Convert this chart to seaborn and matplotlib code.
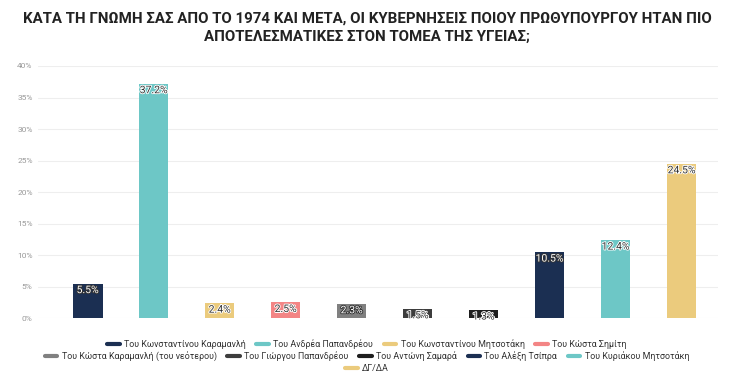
import matplotlib
matplotlib.use("Agg")
import matplotlib.pyplot as plt
import matplotlib.patheffects as pe
from matplotlib.lines import Line2D
import seaborn as sns
import pandas as pd

categories = [
    "Του Κωνσταντίνου Καραμανλή", "Του Ανδρέα Παπανδρέου",
    "Του Κωνσταντίνου Μητσοτάκη", "Του Κώστα Σημίτη",
    "Του Κώστα Καραμανλή (του νεότερου)", "Του Γιώργου Παπανδρέου",
    "Του Αντώνη Σαμαρά", "Του Αλέξη Τσίπρα",
    "Του Κυριάκου Μητσοτάκη", "ΔΓ/ΔΑ",
]
values = [5.5, 37.2, 2.4, 2.5, 2.3, 1.5, 1.3, 10.5, 12.4, 24.5]
colors = ["#1b2f52", "#6dc7c6", "#ebcb7d", "#f38585", "#808080",
          "#3d3d3d", "#1e1e1e", "#1b2f52", "#6dc7c6", "#ebcb7d"]
yticks = [0, 5, 10, 15, 20, 25, 30, 35, 40]
light_text = [0, 4, 7]  # labels drawn white on dark bars

sns.set_theme(style="white")
plt.rcParams["font.family"] = ["Roboto", "DejaVu Sans"]

df = pd.DataFrame({"cat": categories, "val": values})

fig = plt.figure(figsize=(7.34, 3.77), dpi=100)
ax = fig.add_axes([0.052, 0.156, 0.926, 0.669])

sns.barplot(data=df, x="cat", y="val", hue="cat", palette=colors,
            legend=False, width=0.45, saturation=1, linewidth=0, ax=ax)

ax.set_ylim(0, 40)
ax.set_xlim(-0.75, 9.55)
ax.set_yticks(yticks)
ax.set_yticklabels([f"{t}%" for t in yticks], color="#999999", fontsize=6)
ax.set_xticks([])
ax.set_xlabel("")
ax.set_ylabel("")
ax.grid(axis="y", color="#eeeeee", linewidth=0.8)
ax.set_axisbelow(True)
for s in ax.spines.values():
    s.set_visible(False)
ax.tick_params(axis="y", length=0, pad=4)

for i, v in enumerate(values):
    if i in light_text:
        fc, sc = "white", "#333333"
    else:
        fc, sc = "#333333", "white"
    ax.text(i, v - 0.25, f"{v}%", ha="center", va="top", fontsize=7.5,
            color=fc, zorder=5,
            path_effects=[pe.withStroke(linewidth=1.3, foreground=sc)])

fig.suptitle("ΚΑΤΑ ΤΗ ΓΝΩΜΗ ΣΑΣ ΑΠΟ ΤΟ 1974 ΚΑΙ ΜΕΤΑ, ΟΙ ΚΥΒΕΡΝΗΣΕΙΣ ΠΟΙΟΥ ΠΡΩΘΥΠΟΥΡΓΟΥ ΗΤΑΝ ΠΙΟ\n"
             "ΑΠΟΤΕΛΕΣΜΑΤΙΚΕΣ ΣΤΟΝ ΤΟΜΕΑ ΤΗΣ ΥΓΕΙΑΣ;",
             x=0.5, y=0.97, fontsize=10.8, fontweight="bold", color="#222222",
             linespacing=1.45)

rows = [range(0, 4), range(4, 9), range(9, 10)]
ys = [0.088, 0.056, 0.022]
for r, yy in zip(rows, ys):
    handles = [Line2D([0], [0], color=colors[i], lw=3) for i in r]
    labels = [categories[i] for i in r]
    fig.legend(handles, labels, loc="center", bbox_to_anchor=(0.5, yy),
               ncol=len(labels), frameon=False, fontsize=6.4,
               handlelength=1.4, handletextpad=0.5, columnspacing=1.2,
               labelcolor="#333333")

fig.savefig("out.png", dpi=100)
